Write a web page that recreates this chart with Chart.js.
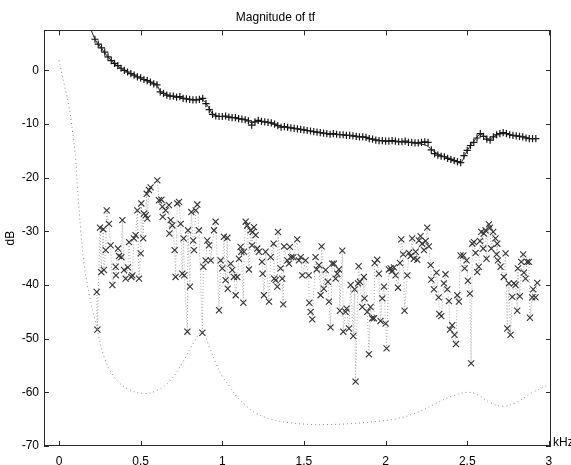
<!DOCTYPE html>
<html>
<head>
<meta charset="utf-8">
<script src="https://cdn.jsdelivr.net/npm/chart.js@4/dist/chart.umd.min.js"></script>
<style>
  html, body { margin: 0; padding: 0; background: #fff; }
  canvas { display: block; }
</style>
</head>
<body>
<canvas id="c" width="571" height="465"></canvas>
<script>
// Measured transfer function, magnitude in dB against frequency in kHz.

// Smoothed model response (solid line)
const fitFreq = [0.19,0.224,0.26,0.30,0.35,0.40,0.45,0.50,0.55,0.60,0.62,0.65,0.70,0.75,0.80,0.85,0.88,0.91,0.94,0.97,1.05,1.11,1.15,1.18,1.21,1.26,1.32,1.36,1.40,1.46,1.52,1.58,1.64,1.70,1.76,1.83,1.89,1.95,2.01,2.07,2.13,2.19,2.25,2.30,2.35,2.40,2.46,2.49,2.52,2.55,2.58,2.62,2.64,2.67,2.72,2.77,2.83,2.89,2.93];
const fitMag  = [8.0,5.6,4.1,2.5,1.0,0.0,-0.8,-1.5,-2.1,-2.8,-3.9,-4.4,-4.9,-5.1,-5.4,-5.5,-5.4,-6.6,-8.1,-8.5,-8.7,-9.0,-9.3,-9.8,-9.5,-9.6,-10.0,-10.5,-10.6,-10.9,-11.2,-11.5,-11.8,-11.9,-12.1,-12.3,-12.6,-13.0,-13.2,-13.3,-13.4,-13.6,-14.0,-15.2,-16.0,-16.5,-17.2,-15.5,-14.0,-12.8,-11.9,-12.6,-12.9,-12.2,-11.6,-12.1,-12.3,-12.7,-12.7];

// Measured response (+ markers)
const plusFreq = [
  0.22,0.24,0.26,0.28,0.30,0.32,0.34,0.36,0.38,0.40,
  0.42,0.44,0.46,0.48,0.50,0.52,0.54,0.56,0.58,0.60,
  0.62,0.64,0.66,0.68,0.70,0.72,0.74,0.76,0.78,0.80,
  0.82,0.84,0.86,0.88,0.90,0.92,0.94,0.96,0.98,1.00,
  1.02,1.04,1.06,1.08,1.10,1.12,1.14,1.16,1.18,1.20,
  1.22,1.24,1.26,1.28,1.30,1.32,1.34,1.36,1.38,1.40,
  1.42,1.44,1.46,1.48,1.50,1.52,1.54,1.56,1.58,1.60,
  1.62,1.64,1.66,1.68,1.70,1.72,1.74,1.76,1.78,1.80,
  1.82,1.84,1.86,1.88,1.90,1.92,1.94,1.96,1.98,2.00,
  2.02,2.04,2.06,2.08,2.10,2.12,2.14,2.16,2.18,2.20,
  2.22,2.24,2.26,2.28,2.30,2.32,2.34,2.36,2.38,2.40,
  2.42,2.44,2.46,2.48,2.50,2.52,2.54,2.56,2.58,2.60,
  2.62,2.64,2.66,2.68,2.70,2.72,2.74,2.76,2.78,2.80,
  2.82,2.84,2.86,2.88,2.90,2.92];
const plusMag = [
  5.8,4.9,4.2,3.4,2.5,1.8,1.3,0.9,0.4,0.0,
  -0.3,-0.6,-0.9,-1.2,-1.4,-1.7,-1.9,-2.2,-2.5,-2.7,
  -4.0,-4.3,-4.6,-4.8,-4.8,-5.0,-4.9,-5.2,-5.3,-5.4,
  -5.5,-5.5,-5.4,-5.2,-6.2,-7.3,-8.2,-8.5,-8.6,-8.6,
  -8.5,-8.7,-8.8,-8.8,-9.0,-9.1,-9.2,-9.4,-10.2,-9.6,
  -9.3,-9.5,-9.6,-9.7,-9.8,-10.0,-10.3,-10.6,-10.5,-10.6,
  -10.7,-10.8,-10.9,-11.0,-11.1,-11.2,-11.3,-11.4,-11.5,-11.6,
  -11.7,-11.8,-11.9,-11.8,-11.9,-12.0,-12.0,-12.1,-12.1,-12.2,
  -12.3,-12.4,-12.4,-12.5,-12.7,-12.8,-13.0,-13.1,-13.1,-13.2,
  -13.2,-13.1,-13.2,-13.3,-13.3,-13.2,-13.4,-13.4,-13.5,-13.5,
  -13.4,-13.3,-13.4,-14.8,-15.5,-15.8,-16.0,-16.1,-16.4,-16.6,
  -16.8,-17.0,-17.2,-15.9,-14.9,-14.0,-13.4,-12.6,-11.8,-12.3,
  -12.8,-13.0,-12.4,-12.0,-11.8,-11.6,-11.8,-12.0,-12.1,-12.2,
  -12.3,-12.4,-12.6,-12.7,-12.7,-12.7];

// Residual / noise estimate (x markers joined by a dotted line)
const crossFreq = [
  0.231,0.235,0.251,0.259,0.271,0.275,0.286,0.292,0.306,0.316,
  0.327,0.347,0.349,0.361,0.367,0.382,0.388,0.398,0.408,0.422,
  0.429,0.443,0.449,0.459,0.469,0.480,0.490,0.500,0.504,0.516,
  0.520,0.531,0.537,0.541,0.551,0.561,0.602,0.612,0.627,0.633,
  0.635,0.653,0.673,0.676,0.684,0.694,0.708,0.714,0.724,0.735,
  0.745,0.755,0.763,0.767,0.786,0.790,0.802,0.810,0.822,0.827,
  0.837,0.847,0.857,0.878,0.884,0.898,0.908,0.918,0.929,0.949,
  0.959,0.980,0.990,1.000,1.010,1.020,1.031,1.033,1.051,1.061,
  1.071,1.082,1.092,1.102,1.112,1.116,1.129,1.133,1.143,1.153,
  1.163,1.173,1.182,1.186,1.194,1.204,1.214,1.224,1.243,1.247,
  1.255,1.265,1.286,1.296,1.314,1.318,1.327,1.337,1.341,1.357,
  1.367,1.373,1.378,1.398,1.408,1.414,1.422,1.435,1.459,1.469,
  1.480,1.490,1.510,1.529,1.533,1.541,1.551,1.571,1.578,1.592,
  1.602,1.608,1.622,1.633,1.647,1.653,1.663,1.673,1.684,1.694,
  1.704,1.714,1.720,1.735,1.741,1.755,1.761,1.776,1.786,1.802,
  1.810,1.816,1.831,1.835,1.843,1.857,1.867,1.871,1.888,1.898,
  1.908,1.918,1.929,1.933,1.949,1.959,1.969,1.980,1.990,2.000,
  2.006,2.020,2.031,2.041,2.051,2.061,2.076,2.088,2.096,2.108,
  2.116,2.133,2.143,2.153,2.163,2.173,2.184,2.194,2.204,2.214,
  2.224,2.235,2.245,2.255,2.265,2.276,2.280,2.296,2.312,2.325,
  2.329,2.341,2.357,2.367,2.378,2.388,2.394,2.408,2.422,2.431,
  2.439,2.449,2.459,2.476,2.484,2.496,2.504,2.516,2.524,2.531,
  2.541,2.551,2.561,2.571,2.578,2.586,2.598,2.602,2.612,2.618,
  2.633,2.639,2.647,2.659,2.673,2.680,2.684,2.688,2.704,2.724,
  2.735,2.745,2.755,2.765,2.776,2.786,2.796,2.806,2.810,2.822,
  2.831,2.843,2.847,2.857,2.867,2.878,2.884,2.898,2.904,2.918,
  2.929];
const crossMag = [
  -41.3,-48.3,-29.3,-37.6,-29.6,-37.2,-33.5,-26.1,-28.6,-32.6,
  -40.0,-36.6,-38.2,-33.2,-34.6,-34.8,-27.9,-37.2,-38.8,-36.7,
  -32.0,-38.5,-38.2,-31.3,-30.7,-26.1,-38.8,-34.1,-24.8,-31.3,
  -26.7,-27.0,-23.0,-27.6,-22.3,-21.8,-20.5,-24.2,-24.1,-25.4,
  -27.3,-26.1,-25.1,-30.4,-27.9,-28.9,-33.5,-38.5,-24.8,-24.5,
  -28.6,-37.9,-31.3,-38.2,-48.7,-29.8,-40.3,-26.4,-31.7,-33.5,
  -26.1,-25.0,-29.8,-48.9,-36.6,-35.4,-31.7,-32.6,-35.4,-29.8,
  -28.2,-44.7,-35.4,-36.9,-31.0,-39.1,-31.2,-40.7,-36.0,-37.2,
  -38.5,-41.9,-38.5,-35.1,-32.9,-33.8,-43.3,-33.8,-28.2,-28.9,
  -37.1,-29.8,-32.6,-30.1,-29.2,-30.7,-33.2,-33.8,-35.7,-37.9,
  -41.9,-33.8,-43.1,-34.8,-32.3,-38.8,-39.1,-40.3,-30.1,-36.9,
  -38.8,-43.6,-32.8,-35.4,-36.0,-32.9,-34.8,-34.8,-31.5,-35.4,
  -34.8,-38.2,-35.4,-38.2,-43.3,-45.0,-46.4,-34.8,-37.1,-36.3,
  -41.9,-32.8,-40.7,-37.2,-39.4,-43.1,-47.9,-36.0,-36.0,-38.8,
  -37.9,-37.1,-44.8,-33.6,-48.7,-45.0,-44.4,-48.1,-40.0,-49.5,
  -40.8,-58.0,-39.7,-36.5,-39.4,-44.1,-38.5,-42.5,-45.0,-52.9,
  -44.1,-46.2,-46.2,-35.9,-35.3,-37.9,-46.7,-42.5,-40.3,-47.2,
  -51.8,-37.1,-36.9,-37.4,-36.7,-38.2,-40.5,-35.9,-31.5,-34.3,
  -44.8,-38.2,-34.0,-34.6,-31.3,-35.1,-33.8,-35.3,-31.7,-30.9,
  -32.3,-33.5,-31.8,-29.3,-32.8,-36.3,-39.0,-40.8,-37.7,-42.3,
  -45.4,-45.8,-39.7,-38.0,-40.8,-43.0,-48.3,-47.5,-49.3,-51.0,
  -41.9,-43.1,-34.5,-34.5,-36.9,-35.4,-39.2,-41.6,-54.6,-32.3,
  -32.0,-34.0,-37.6,-36.6,-31.8,-30.1,-33.2,-30.4,-29.8,-35.1,
  -28.7,-29.3,-33.2,-30.1,-31.3,-34.3,-32.3,-35.4,-36.6,-38.5,
  -34.1,-48.1,-39.7,-49.3,-42.2,-39.7,-40.0,-44.8,-36.9,-42.1,
  -35.7,-34.3,-37.7,-38.8,-35.7,-35.7,-46.1,-42.3,-40.8,-42.3,
  -39.6];

// Reference filter response (dotted curve)
const refFreq = [0,0.031,0.061,0.082,0.102,0.112,0.133,0.153,0.184,0.235,0.276,0.337,0.418,0.52,0.602,0.684,0.765,0.827,0.878,0.92,0.96,1.0,1.047,1.088,1.15,1.2,1.3,1.42,1.55,1.65,1.8,1.95,2.07,2.19,2.3,2.4,2.5,2.56,2.64,2.72,2.8,2.9,3.0];
const refMag  = [1.9,-2.5,-6.8,-11.2,-16.5,-21.5,-29.8,-36.0,-41.6,-48.4,-53.4,-57.1,-59.3,-60.2,-59.6,-57.7,-54.0,-50.6,-48.7,-51.5,-54.5,-57.0,-59.0,-60.8,-62.6,-63.8,-65.0,-65.7,-66.0,-66.0,-65.8,-65.4,-64.9,-63.8,-62.2,-60.8,-60.0,-60.4,-61.9,-62.6,-61.9,-60.0,-58.6];

// Axis ticks
const xTicks = [0, 0.5, 1, 1.5, 2, 2.5, 3];
const yTicks = [-70, -60, -50, -40, -30, -20, -10, 0];
const titleText = 'Magnitude of tf';
const yLabel = 'dB';
const xUnit = 'kHz';

const FONT = '"Liberation Sans", Arial, Helvetica, sans-serif';
const pts = (xs, ys) => xs.map((x, i) => ({ x, y: ys[i] }));
const fixedTicks = list => scale => { scale.ticks = list.map(v => ({ value: v })); };

// Box around the axes with inward tick marks on all four sides, plus the unit label
const boxTicks = {
  id: 'boxTicks',
  afterDatasetsDraw(chart) {
    const { ctx, chartArea: a, scales: { x, y } } = chart;
    ctx.save();
    ctx.strokeStyle = '#2a2a2a';
    ctx.lineWidth = 1;
    ctx.strokeRect(Math.round(a.left) + 0.5, Math.round(a.top) + 0.5,
                   Math.round(a.right - a.left) - 1, Math.round(a.bottom - a.top) - 1);
    const L = 5;
    ctx.beginPath();
    x.ticks.forEach(t => {
      const px = Math.round(x.getPixelForValue(t.value)) + 0.5;
      ctx.moveTo(px, a.bottom); ctx.lineTo(px, a.bottom - L);
      ctx.moveTo(px, a.top); ctx.lineTo(px, a.top + L);
    });
    y.ticks.forEach(t => {
      const py = Math.round(y.getPixelForValue(t.value)) + 0.5;
      ctx.moveTo(a.left, py); ctx.lineTo(a.left + L, py);
      ctx.moveTo(a.right, py); ctx.lineTo(a.right - L, py);
    });
    ctx.stroke();
    ctx.fillStyle = '#000';
    ctx.font = '12px ' + FONT;
    ctx.textAlign = 'left';
    ctx.textBaseline = 'middle';
    ctx.fillText(xUnit, a.right + 2, a.bottom - 3);
    ctx.restore();
  }
};

new Chart(document.getElementById('c'), {
  type: 'scatter',
  data: {
    datasets: [
      {
        data: pts(refFreq, refMag),
        showLine: true, tension: 0.4,
        borderColor: '#8a8a8a', borderWidth: 1, borderDash: [1, 3],
        pointRadius: 0
      },
      {
        data: pts(crossFreq, crossMag),
        showLine: true, tension: 0,
        borderColor: '#a8a8a8', borderWidth: 1, borderDash: [1, 2],
        pointStyle: 'crossRot', pointRadius: 4.3,
        pointBorderColor: '#333', pointBorderWidth: 1.1
      },
      {
        data: pts(fitFreq, fitMag),
        showLine: true, tension: 0.3,
        borderColor: '#222', borderWidth: 1,
        pointRadius: 0
      },
      {
        data: pts(plusFreq, plusMag),
        showLine: false,
        pointStyle: 'cross', pointRadius: 3.6,
        pointBorderColor: '#151515', pointBorderWidth: 1.2
      }
    ]
  },
  options: {
    responsive: false,
    animation: false,
    events: [],
    layout: { padding: { left: 0, right: 20, top: 0, bottom: 0 } },
    plugins: {
      legend: { display: false },
      tooltip: { enabled: false },
      title: {
        display: true, text: titleText, color: '#000',
        font: { family: FONT, size: 12, weight: 'normal', lineHeight: 1.2 },
        padding: { top: 10, bottom: 6 }
      }
    },
    scales: {
      x: {
        type: 'linear', min: -0.092, max: 3.013,
        grid: { display: false, drawTicks: false },
        border: { display: false },
        afterBuildTicks: fixedTicks(xTicks),
        ticks: { padding: 8, color: '#000', maxRotation: 0, autoSkip: false,
                 callback: v => String(v), font: { family: FONT, size: 12 } },
        afterFit(s) { s.height = 19; }
      },
      y: {
        type: 'linear', min: -70, max: 7.45,
        grid: { display: false, drawTicks: false },
        border: { display: false },
        afterBuildTicks: fixedTicks(yTicks),
        ticks: { padding: 5, color: '#000', autoSkip: false,
                 callback: v => String(v), font: { family: FONT, size: 12 } },
        title: { display: true, text: yLabel, color: '#000', padding: { top: 3, bottom: 0 },
                 font: { family: FONT, size: 12 } },
        afterFit(s) { s.width = 44; }
      }
    }
  },
  plugins: [boxTicks]
});
</script>
</body>
</html>
